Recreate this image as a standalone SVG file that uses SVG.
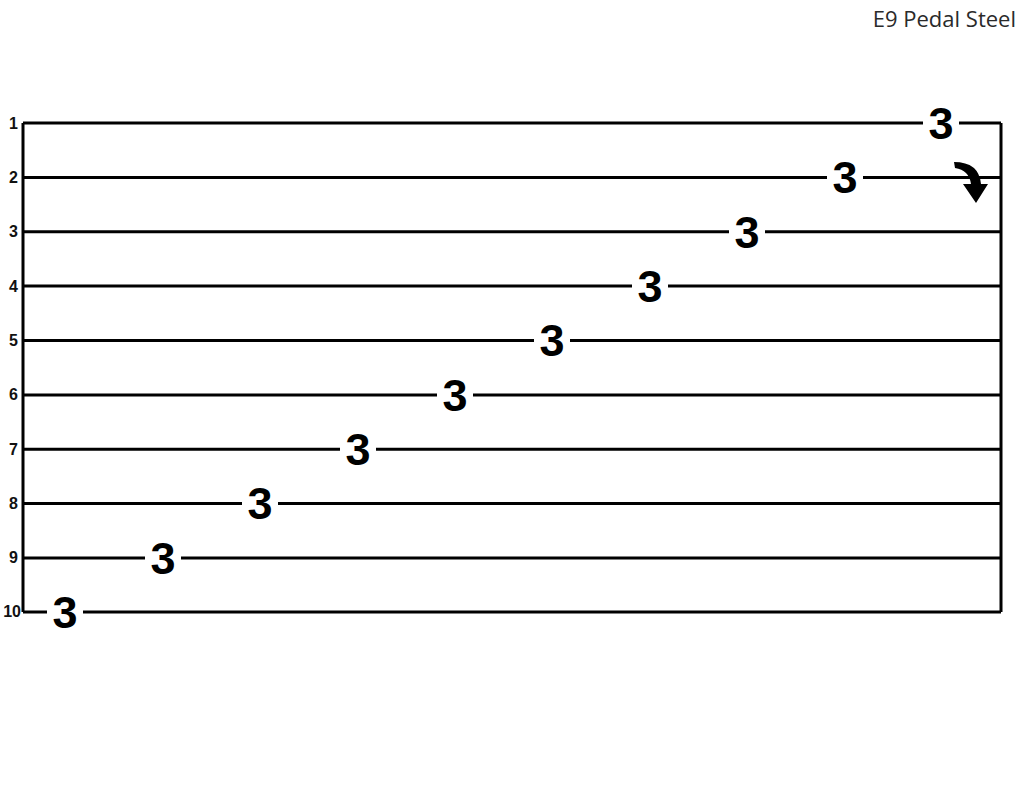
<svg xmlns="http://www.w3.org/2000/svg" width="1024" height="791" viewBox="0 0 1024 791">
<style>
.ln{stroke:#000;stroke-width:3;fill:none}
.lbl{font-family:"Liberation Sans",Arial,sans-serif;font-weight:bold;font-size:16px;fill:#111;text-anchor:end}
.n{font-family:"Liberation Sans",Arial,sans-serif;font-weight:bold;font-size:45px;fill:#000;text-anchor:middle}
.gap{fill:#fff}
</style>
<rect width="1024" height="791" fill="#fff"/>
<text x="1016" y="27" font-family="Open Sans, sans-serif" font-size="22" fill="#2a2a2a" text-anchor="end">E9 Pedal Steel</text>
<g id="staff">
<path class="ln" d="M23 123V612M1001 123V612"/>
<path class="ln" d="M23 123H1001M23 177.4H1001M23 231.8H1001M23 286.1H1001M23 340.5H1001M23 394.9H1001M23 449.3H1001M23 503.6H1001M23 558H1001M23 612H1001"/>
</g>
<g id="labels">
<text class="lbl" x="18" y="129">1</text>
<text class="lbl" x="18" y="183">2</text>
<text class="lbl" x="18" y="237">3</text>
<text class="lbl" x="18" y="292">4</text>
<text class="lbl" x="18" y="346">5</text>
<text class="lbl" x="18" y="400">6</text>
<text class="lbl" x="18" y="455">7</text>
<text class="lbl" x="18" y="509">8</text>
<text class="lbl" x="18" y="563">9</text>
<text class="lbl" x="21" y="617">10</text>
</g>
<g id="notes">
<g id="n1"><rect class="gap" x="923" y="117" width="36" height="12"/><text class="n" x="941" y="139">3</text></g>
<g id="n2"><rect class="gap" x="827" y="171" width="36" height="12"/><text class="n" x="845" y="193">3</text></g>
<g id="n3"><rect class="gap" x="729" y="226" width="36" height="12"/><text class="n" x="747" y="248">3</text></g>
<g id="n4"><rect class="gap" x="632" y="280" width="36" height="12"/><text class="n" x="650" y="302">3</text></g>
<g id="n5"><rect class="gap" x="534" y="334" width="36" height="12"/><text class="n" x="552" y="356">3</text></g>
<g id="n6"><rect class="gap" x="437" y="389" width="36" height="12"/><text class="n" x="455" y="411">3</text></g>
<g id="n7"><rect class="gap" x="340" y="443" width="36" height="12"/><text class="n" x="358" y="465">3</text></g>
<g id="n8"><rect class="gap" x="242" y="497" width="36" height="12"/><text class="n" x="260" y="519">3</text></g>
<g id="n9"><rect class="gap" x="145" y="552" width="36" height="12"/><text class="n" x="163" y="574">3</text></g>
<g id="n10"><rect class="gap" x="47" y="606" width="36" height="12"/><text class="n" x="65" y="628">3</text></g>
</g>
<g id="arrow">
<path d="M954 162Q979 162 981 184H988L976 203L963 184H971Q969 170 955 168Z" fill="#000"/>
</g>
</svg>
